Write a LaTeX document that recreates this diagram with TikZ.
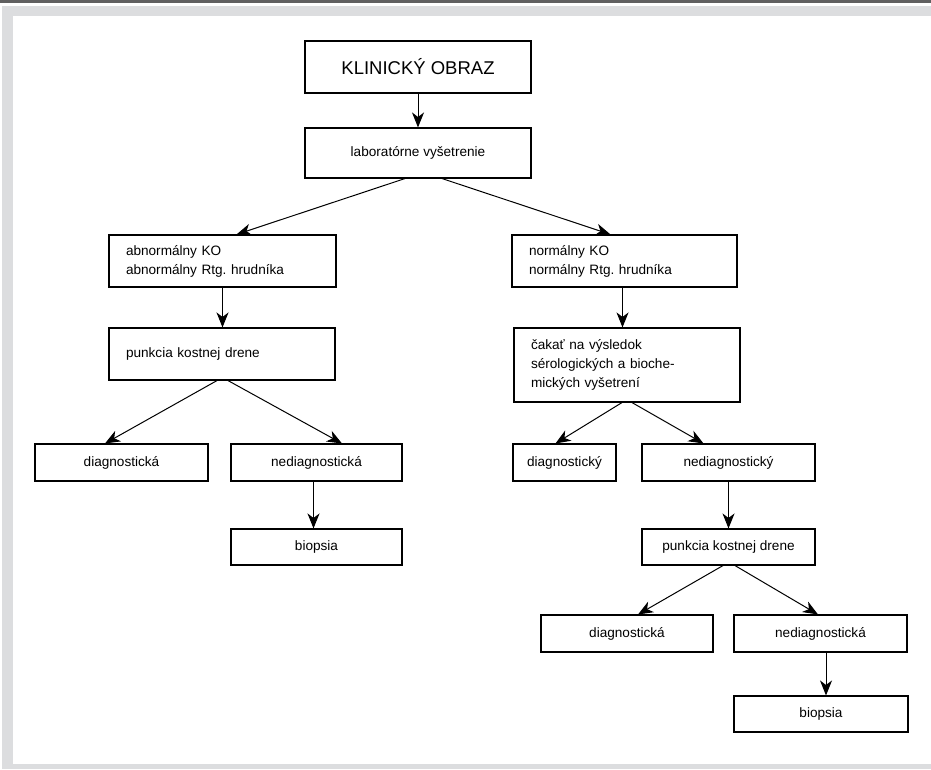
\documentclass[tikz,border=0pt]{standalone}
\usepackage{fontspec}
\setmainfont{Liberation Sans}
\usetikzlibrary{arrows.meta}
\definecolor{framedark}{HTML}{606060}
\definecolor{framelight}{HTML}{DCDDDF}
\tikzset{
  box/.style={draw=black, line width=1.1pt, inner sep=0pt, font=\fontsize{13.6}{19}\selectfont\frenchspacing, align=center},
  lbox/.style={box, align=left, inner xsep=17pt, text width=#1},
  conn/.style={line width=1pt, -{Stealth[length=15pt,width=12pt,inset=4.5pt]}},
}
\begin{document}
\begin{tikzpicture}[x=1pt,y=-1pt]
\useasboundingbox (0,0) rectangle (931,769);
% frame
\fill[framedark] (0,0) rectangle (931,3.4);
\fill[framelight] (2,5.5) rectangle (931,16);
\fill[framelight] (2,5.5) rectangle (13,769);
\fill[framelight] (2,764) rectangle (931,769);
% nodes
\node[box, minimum width=226pt, minimum height=52pt, font=\fontsize{18.5}{22}\selectfont] (ko) at (418,67) {KLINICKÝ OBRAZ};
\node[box, minimum width=226pt, minimum height=50pt] (lab) at (418,153) {laboratórne vyšetrenie};
\node[lbox=193pt, minimum height=52pt] (abn) at (222.5,261) {abnormálny KO\\abnormálny Rtg. hrudníka};
\node[lbox=191pt, minimum height=52pt] (nor) at (624.5,261) {normálny KO\\normálny Rtg. hrudníka};
\node[lbox=192pt, minimum height=52pt] (pk1) at (222,354) {punkcia kostnej drene};
\node[lbox=192pt, minimum height=74pt] (cak) at (627,365) {čakať na výsledok\\sérologických a bioche-\\mických vyšetrení};
\node[box, minimum width=173pt, minimum height=37pt] (d1) at (121.5,462.5) {diagnostická};
\node[box, minimum width=171pt, minimum height=37pt] (n1) at (316.5,462.5) {nediagnostická};
\node[box, minimum width=171pt, minimum height=36pt] (b1) at (316.5,547) {biopsia};
\node[box, minimum width=103pt, minimum height=37pt] (d2) at (564.5,462.5) {diagnostický};
\node[box, minimum width=173pt, minimum height=37pt] (n2) at (728.5,462.5) {nediagnostický};
\node[box, minimum width=173pt, minimum height=36pt] (pk2) at (728.5,547) {punkcia kostnej drene};
\node[box, minimum width=172pt, minimum height=37pt] (d3) at (627,633.5) {diagnostická};
\node[box, minimum width=173pt, minimum height=37pt] (n3) at (820.5,633.5) {nediagnostická};
\node[box, minimum width=174pt, minimum height=36pt] (b3) at (821,714) {biopsia};
% connectors
\draw[conn] (ko.south) -- (lab.north);
\draw[conn] ([xshift=-13pt]lab.south) -- ([xshift=14pt]abn.north);
\draw[conn] ([xshift=24pt]lab.south) -- ([xshift=-14pt]nor.north);
\draw[conn] (abn.south) -- (abn.south |- pk1.north);
\draw[conn] ([xshift=-2pt]nor.south) -- ([xshift=-2pt]nor.south |- cak.north);
\draw[conn] ([xshift=-5pt]cak.south) -- ([xshift=-9pt]d2.north);
\draw[conn] ([xshift=5pt]cak.south) -- ([xshift=-25pt]n2.north);
\draw[conn] ([xshift=-5pt]pk1.south) -- ([xshift=-16.5pt]d1.north);
\draw[conn] ([xshift=6pt]pk1.south) -- ([xshift=25.5pt]n1.north);
\draw[conn] ([xshift=-3pt]n1.south) -- ([xshift=-3pt]b1.north);
\draw[conn] (n2.south) -- (pk2.north);
\draw[conn] ([xshift=-5.5pt]pk2.south) -- ([xshift=11pt]d3.north);
\draw[conn] ([xshift=6.5pt]pk2.south) -- ([xshift=-2.5pt]n3.north);
\draw[conn] ([xshift=5.5pt]n3.south) -- ([xshift=5pt]b3.north);
\end{tikzpicture}
\end{document}
